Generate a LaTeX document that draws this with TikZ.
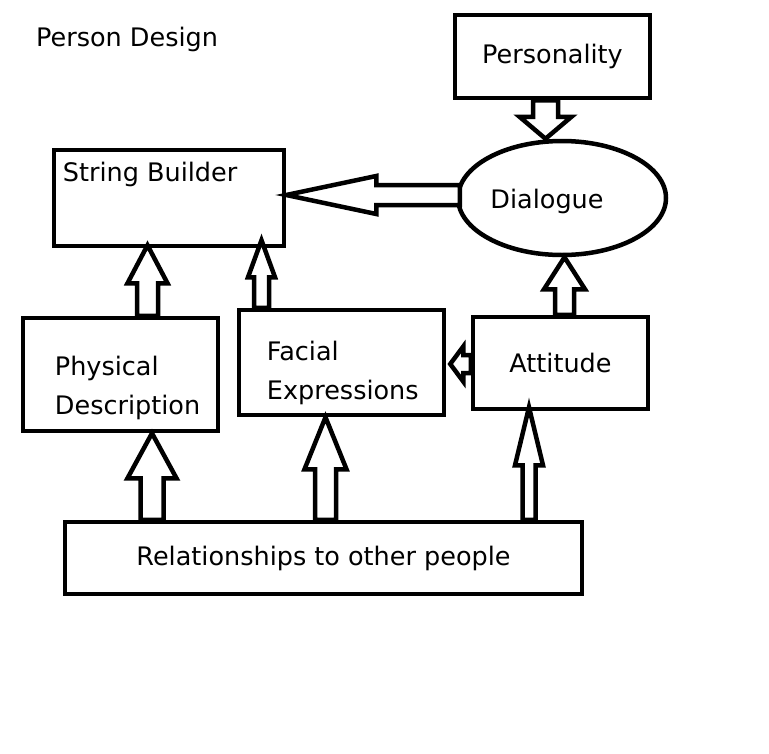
\documentclass[tikz,border=0pt]{standalone}
\usepackage{fontspec}
\setmainfont{DejaVu Sans}
\usetikzlibrary{calc,shapes.geometric}
\tikzset{
  box/.style={draw, line width=4.5pt, rectangle, inner sep=0pt},
  lbl/.style={font=\fontsize{25.5}{39}\selectfont},
  arr/.style={draw, line width=4.5pt, line join=miter, fill=white},
}
% #1 start, #2 tip, #3 shaft half width, #4 head half width, #5 head length
\newcommand\fatarr[5]{%
  \path (#2) coordinate (T) ($(#2)!#5!(#1)$) coordinate (B);
  \draw[arr] ($(#1)!#3!90:(T)$) -- ($(B)!#3!-90:(#1)$) -- ($(B)!#4!-90:(#1)$)
     -- (T) -- ($(B)!#4!90:(#1)$) -- ($(B)!#3!90:(#1)$) -- ($(#1)!#3!-90:(T)$) -- cycle;
}
\begin{document}
\begin{tikzpicture}[x=1pt,y=-1pt]
\useasboundingbox[fill=white] (0,0) rectangle (769,753);
\node[lbl, anchor=west, inner sep=0pt] (title) at (36,39) {Person Design};
\node[box, minimum width=195, minimum height=83, lbl] (pers) at (552.5,56.5) {Personality};
\node[box, minimum width=230, minimum height=96] (sb) at (169,198) {};
\node[lbl, anchor=west, inner sep=0pt] (sbt) at ($(sb.north west)+(11,27)$) {String Builder};
\node[draw, line width=4.5pt, ellipse, minimum width=208, minimum height=114] (dial) at (562,198) {};
\node[lbl] (dialt) at ($(dial.center)+(-15,3)$) {Dialogue};
\node[box, minimum width=195, minimum height=113] (phys) at (120.5,374.5) {};
\node[lbl, anchor=west, align=left, inner sep=0pt] (physt) at ($(phys.west)+(34,13)$) {Physical\\Description};
\node[box, minimum width=205, minimum height=105] (fac) at (341.5,362.5) {};
\node[lbl, anchor=west, align=left, inner sep=0pt] (fact) at ($(fac.west)+(30,10)$) {Facial\\Expressions};
\node[box, minimum width=175, minimum height=92, lbl] (att) at (560.5,363) {Attitude};
\node[box, minimum width=517, minimum height=72, lbl] (rel) at (323.5,558) {Relationships to other people};

\coordinate (S1) at ($(pers.south)+(-7,0)$);
\coordinate (E1) at (dial.north -| S1);
\fatarr{S1}{E1}{12.5pt}{26pt}{22pt}
\coordinate (S2) at ($(dial.west)+(4,-3)$);
\coordinate (E2) at (sb.east |- S2);
\fatarr{S2}{E2}{10pt}{19pt}{90pt}
\coordinate (S3) at ($(phys.north)+(27,0)$);
\coordinate (E3) at ($(sb.south -| S3)+(0,-3)$);
\fatarr{S3}{E3}{10.5pt}{20pt}{38pt}
\coordinate (S4) at ($(fac.north)+(-80,0)$);
\coordinate (E4) at ($(sb.south -| S4)+(0,-8)$);
\fatarr{S4}{E4}{7.5pt}{13.5pt}{37pt}
\coordinate (S5) at ($(att.north)+(4,0)$);
\coordinate (E5) at (dial.south -| S5);
\fatarr{S5}{E5}{9.5pt}{20.5pt}{32pt}
\coordinate (S6) at ($(att.west)+(0,1)$);
\coordinate (E6) at ($(fac.east |- S6)+(4,0)$);
\fatarr{S6}{E6}{9pt}{17.5pt}{13pt}
\coordinate (S7) at ($(rel.north)+(-171.5,0)$);
\coordinate (E7) at (phys.south -| S7);
\fatarr{S7}{E7}{11.5pt}{24.5pt}{45pt}
\coordinate (S8) at ($(rel.north)+(2,0)$);
\coordinate (E8) at (fac.south -| S8);
\fatarr{S8}{E8}{10.5pt}{21pt}{52pt}
\coordinate (S9) at ($(rel.north)+(205.5,0)$);
\coordinate (E9) at ($(att.south -| S9)+(0,-4)$);
\fatarr{S9}{E9}{6.5pt}{14pt}{58pt}
\end{tikzpicture}
\end{document}
